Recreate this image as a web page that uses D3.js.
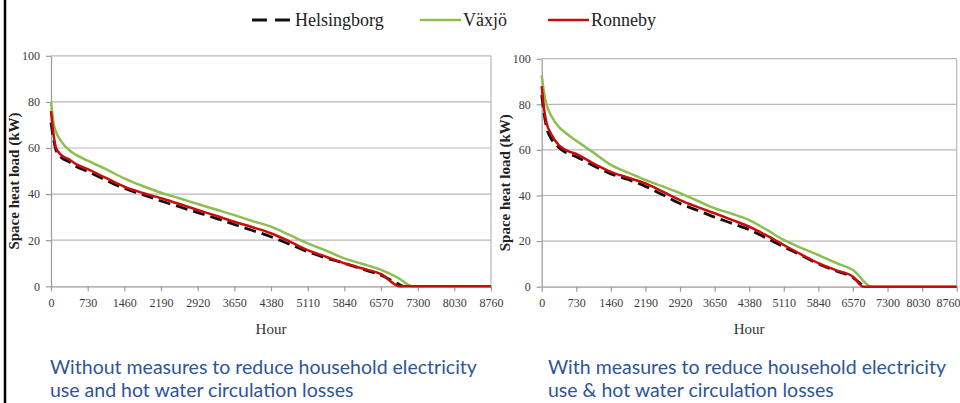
<!DOCTYPE html>
<html>
<head>
<meta charset="utf-8">
<script src="https://cdn.jsdelivr.net/npm/d3@7"></script>
<style>
  body { margin: 0; background: #fff; }
  svg { display: block; }
  .serif { font-family: "Liberation Serif", "Times New Roman", Times, "DejaVu Serif", "Noto Serif", serif; }
</style>
</head>
<body>
<div class="chart"></div>
<script>
// Chart data.
var xTicks = [0, 730, 1460, 2190, 2920, 3650, 4380, 5110, 5840, 6570, 7300, 8030, 8760];
var yTicks = [0, 20, 40, 60, 80, 100];

var seriesNames = ["Helsingborg", "Växjö", "Ronneby"];
var seriesColors = ["#111111", "#8dbf4e", "#cc0a0a"];

// Left panel: without measures
var leftHelsHours = [0, 50, 100, 200, 365, 500, 730, 1095, 1460, 1825, 2190, 2555, 2920, 3285, 3650, 4015, 4380, 4745, 5110, 5475, 5840, 6205, 6570, 6900, 7000];
var leftHels = [71, 64, 59, 56, 54, 52, 49.8, 46, 42.5, 39.8, 37, 34.5, 32, 29.5, 26.8, 24.2, 21.5, 18.3, 15, 12.3, 10, 7.4, 4.8, 1.2, 0];
var leftVaxHours = [0, 50, 100, 200, 365, 500, 730, 1095, 1460, 1825, 2190, 2555, 2920, 3285, 3650, 4015, 4380, 4745, 5110, 5475, 5840, 6205, 6570, 6900, 7200, 8760];
var leftVax = [80, 71, 67, 63, 59, 57, 54.5, 50.8, 46.8, 43.5, 40.6, 38.2, 35.7, 33.3, 30.9, 28.3, 25.9, 22.3, 18.6, 15.5, 12.1, 9.7, 7.1, 3.8, 0, 0];
var leftRonHours = [0, 50, 100, 200, 365, 500, 730, 1095, 1460, 1825, 2190, 2555, 2920, 3285, 3650, 4015, 4380, 4745, 5110, 5475, 5840, 6205, 6570, 6948, 8760];
var leftRon = [76, 66, 60, 57, 55, 53, 50.8, 47, 43.2, 40.5, 38.2, 35.7, 33.1, 30.6, 28, 25.6, 23, 19.5, 15.7, 12.8, 10, 7.7, 5.3, 0, 0];

// Right panel: with measures
var rightHelsHours = [0, 50, 100, 200, 365, 500, 730, 1095, 1460, 1825, 2190, 2555, 2920, 3285, 3650, 4015, 4380, 4745, 5110, 5475, 5840, 6205, 6570, 6800];
var rightHels = [84, 76, 70, 65, 61, 59, 57, 53, 49.5, 47, 44, 40.3, 36.5, 33.5, 30.5, 27.8, 25, 21.3, 17.5, 13.8, 10, 7, 4, 0];
var rightVaxHours = [0, 50, 100, 200, 365, 500, 730, 1095, 1460, 1825, 2190, 2555, 2920, 3285, 3650, 4015, 4380, 4745, 5110, 5475, 5840, 6205, 6570, 6970, 8760];
var rightVax = [92.8, 85, 80, 75, 70, 67.5, 64, 58.8, 53.4, 50, 46.8, 44, 41, 37.7, 34.4, 32, 29.2, 25, 20.5, 17, 13.9, 10.5, 7.3, 0, 0];
var rightRonHours = [0, 50, 100, 200, 365, 500, 730, 1095, 1460, 1825, 2190, 2555, 2920, 3285, 3650, 4015, 4380, 4745, 5110, 5475, 5840, 6205, 6570, 6790, 8760];
var rightRon = [88, 78, 72, 67, 62, 60, 58.2, 54, 50.4, 47.8, 45.3, 41.7, 38, 35, 32.2, 29.3, 26.3, 22.5, 18.3, 14.2, 10.3, 7.3, 4.4, 0, 0];

var captionLeft = ["Without measures to reduce household electricity", "use and hot water circulation losses"];
var captionRight = ["With measures to reduce household electricity", "use & hot water circulation losses"];

// Define SVG dimensions.
var w = 960,
    h = 403;

var svg = d3.select(".chart").append("svg")
  .attr("width", w)
  .attr("height", h);

svg.append("rect")
  .attr("width", w)
  .attr("height", h)
  .attr("fill", "#fff");

// Black frame edge on the left side.
svg.append("line")
  .attr("x1", 5).attr("x2", 5)
  .attr("y1", 0).attr("y2", h)
  .attr("stroke", "#000")
  .attr("stroke-width", 2.5);

function zip(hours, vals) {
  return hours.map(function(d, i) { return { hour: d, v: vals[i] }; });
}

function drawPanel(opts) {
  var xScale = d3.scaleLinear()
    .domain([0, 8760])
    .range([opts.left, opts.right]);

  var yScale = d3.scaleLinear()
    .domain([0, 100])
    .range([opts.bottom, opts.top]);

  var g = svg.append("g");

  // Gridlines
  g.selectAll("line.grid")
    .data(yTicks.slice(1))
    .enter()
    .append("line")
    .attr("class", "grid")
    .attr("x1", opts.left)
    .attr("x2", opts.right)
    .attr("y1", function(d) { return yScale(d); })
    .attr("y2", function(d) { return yScale(d); })
    .attr("stroke", "#b8b8b8")
    .attr("stroke-width", 1.2);

  // Right border of plot area
  g.append("line")
    .attr("x1", opts.right).attr("x2", opts.right)
    .attr("y1", yScale(100)).attr("y2", yScale(0))
    .attr("stroke", "#b8b8b8")
    .attr("stroke-width", 1.2);

  var xAxis = d3.axisBottom(xScale)
    .tickValues(xTicks)
    .tickSize(5)
    .tickSizeOuter(0)
    .tickPadding(7)
    .tickFormat(d3.format("d"));

  var yAxis = d3.axisLeft(yScale)
    .tickValues(yTicks)
    .tickSize(5)
    .tickSizeOuter(0)
    .tickPadding(6);

  var gx = g.append("g")
    .attr("transform", "translate(0," + opts.bottom + ")")
    .call(xAxis);

  var gy = g.append("g")
    .attr("transform", "translate(" + opts.left + ",0)")
    .call(yAxis);

  [gx, gy].forEach(function(a) {
    a.attr("font-family", null).attr("font-size", null);
    a.selectAll("path, line").attr("stroke", "#9a9a9a").attr("stroke-width", 1.2);
    a.selectAll("text")
      .attr("class", "serif")
      .attr("fill", "#3a3a3a")
      .style("font-size", "12px");
  });

  // Keep the last x label inside the page, nudging its neighbour aside.
  if (opts.right > w - 15) {
    gx.selectAll(".tick").filter(function(d) { return d === 8760; }).select("text")
      .attr("text-anchor", "end")
      .attr("dx", (w - opts.right) + "px");
    gx.selectAll(".tick").filter(function(d) { return d === 8030; }).select("text")
      .attr("dx", "-4px");
  }

  var line = d3.line()
    .x(function(d) { return xScale(d.hour); })
    .y(function(d) { return yScale(d.v); })
    .curve(d3.curveMonotoneX);

  // Draw Växjö, Helsingborg, then Ronneby on top.
  g.append("path")
    .datum(zip(opts.vaxH, opts.vax))
    .attr("d", line)
    .attr("fill", "none")
    .attr("stroke", seriesColors[1])
    .attr("stroke-width", 2.5);

  g.append("path")
    .datum(zip(opts.helsH, opts.hels))
    .attr("d", line)
    .attr("fill", "none")
    .attr("stroke", seriesColors[0])
    .attr("stroke-width", 2.8)
    .attr("stroke-dasharray", "12,6");

  g.append("path")
    .datum(zip(opts.ronH, opts.ron))
    .attr("d", line)
    .attr("fill", "none")
    .attr("stroke", seriesColors[2])
    .attr("stroke-width", 2.5);

  // Axis titles
  g.append("text")
    .attr("class", "serif")
    .attr("x", (opts.left + opts.right) / 2)
    .attr("y", 334)
    .style("text-anchor", "middle")
    .style("font-size", "15px")
    .attr("fill", "#333")
    .text("Hour");

  g.append("text")
    .attr("class", "serif")
    .attr("transform", "translate(" + opts.yLabelX + "," + ((opts.top + opts.bottom) / 2 + 10) + ") rotate(-90)")
    .style("text-anchor", "middle")
    .style("font-size", "15px")
    .style("font-weight", "bold")
    .attr("fill", "#222")
    .text("Space heat load (kW)");

  // Caption
  g.selectAll("text.caption")
    .data(opts.caption)
    .enter()
    .append("text")
    .attr("class", "caption")
    .attr("x", opts.captionX)
    .attr("y", function(d, i) { return 374 + i * 23; })
    .style("font-family", "Lato, 'Open Sans', sans-serif")
    .style("font-size", "19.5px")
    .attr("fill", "#2f5597")
    .text(function(d) { return d; });
}

drawPanel({
  left: 51, right: 491, top: 55.8, bottom: 286.3,
  yLabelX: 19, captionX: 50,
  helsH: leftHelsHours, hels: leftHels,
  vaxH: leftVaxHours, vax: leftVax,
  ronH: leftRonHours, ron: leftRon,
  caption: captionLeft
});

drawPanel({
  left: 541.7, right: 956.7, top: 58.7, bottom: 286.7,
  yLabelX: 510, captionX: 548,
  helsH: rightHelsHours, hels: rightHels,
  vaxH: rightVaxHours, vax: rightVax,
  ronH: rightRonHours, ron: rightRon,
  caption: captionRight
});

// Legend
var legendX = [252, 420, 548];
var legend = svg.selectAll("g.legend")
  .data(seriesNames)
  .enter()
  .append("g")
  .attr("class", "legend")
  .attr("transform", function(d, i) { return "translate(" + legendX[i] + ",20)"; });

legend.append("line")
  .attr("x1", 0)
  .attr("x2", 41)
  .attr("y1", 0)
  .attr("y2", 0)
  .attr("stroke", function(d, i) { return seriesColors[i]; })
  .attr("stroke-width", function(d, i) { return i === 0 ? 3 : 2.4; })
  .attr("stroke-dasharray", function(d, i) { return i === 0 ? "15,8" : null; });

legend.append("text")
  .attr("class", "serif")
  .attr("x", 43)
  .attr("y", 6)
  .style("font-size", "18px")
  .attr("fill", "#222")
  .text(function(d) { return d; });
</script>
</body>
</html>
